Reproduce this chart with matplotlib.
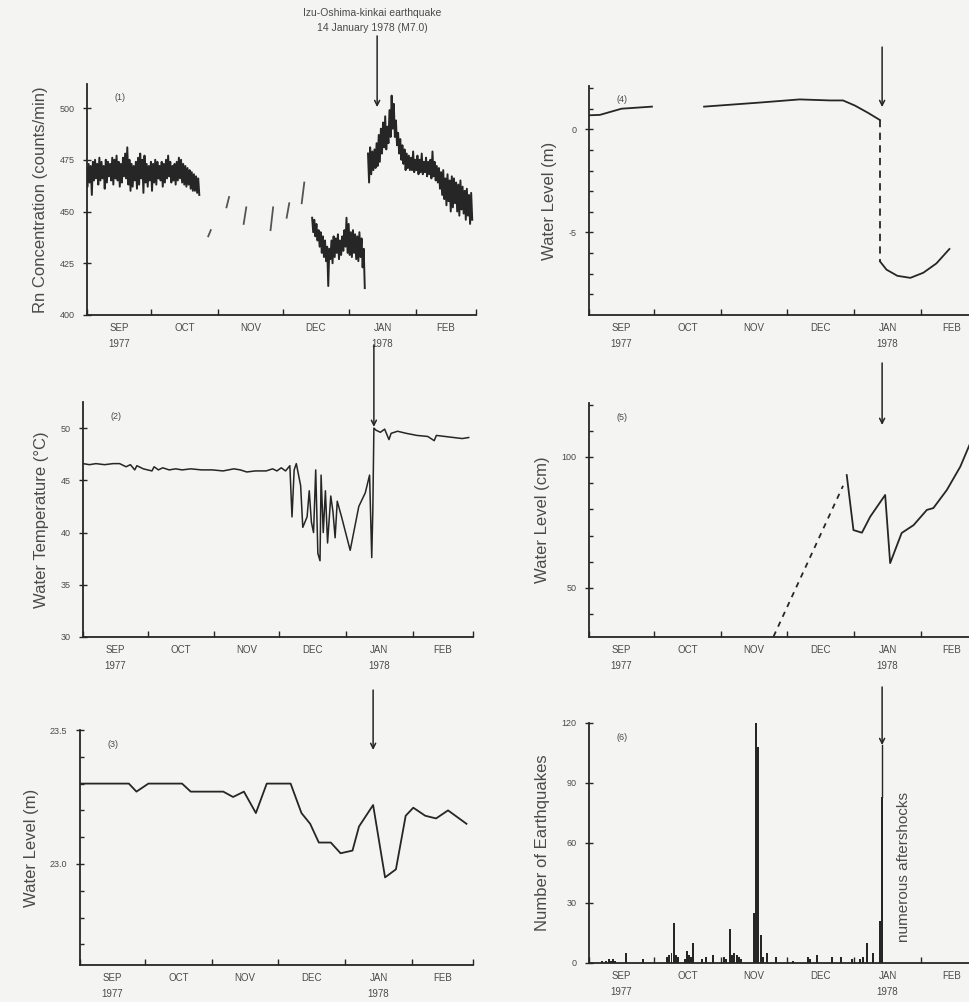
import numpy as np
import matplotlib
matplotlib.use("Agg")
import matplotlib.pyplot as plt

plt.rcParams['font.family'] = ['Liberation Sans', 'DejaVu Sans']

# x axis: days counted from 1 Sep 1977
month_starts = [0, 30, 61, 91, 122, 153, 181]
month_labels = ['SEP\n1977', 'OCT', 'NOV', 'DEC', 'JAN\n1978', 'FEB']
quake_day = 135  # 14 January 1978

# (1) Rn concentration, daily high / low of the record
rn1_days = list(range(0, 53))
rn1_hi = [471, 473, 472, 474, 475, 473, 476, 474, 472, 475, 474, 473, 476, 475, 477, 474, 473, 476,
          478, 481, 475, 473, 472, 474, 476, 478, 475, 477, 473, 472, 474, 473, 475, 474, 472, 474,
          473, 475, 477, 474, 472, 473, 474, 476, 475, 473, 472, 471, 470, 469, 468, 467, 466]
rn1_lo = [462, 464, 458, 465, 466, 463, 465, 466, 461, 464, 467, 465, 463, 466, 465, 462, 464, 467,
          466, 463, 460, 462, 465, 461, 463, 466, 459, 464, 462, 465, 460, 464, 463, 466, 465, 462,
          464, 466, 467, 464, 465, 463, 465, 466, 464, 463, 462, 463, 461, 460, 460, 459, 458]
rn_streak_days = [57, 65.5, 73.5, 86, 93.5, 100.5]
rn_streak_lo = [438, 452, 444, 441, 447, 454]
rn_streak_hi = [441, 457, 452, 452, 454, 464]
rn2_days = list(range(105, 130))
rn2_hi = [447, 446, 444, 441, 440, 438, 436, 433, 432, 436, 438, 437, 439, 436, 438, 441, 447, 444,
          440, 441, 439, 438, 440, 437, 432]
rn2_lo = [440, 438, 436, 433, 430, 428, 426, 414, 427, 425, 428, 430, 427, 429, 431, 433, 430, 429,
          428, 430, 427, 426, 428, 423, 413]
rn3_days = list(range(131, 180))
rn3_hi = [478, 481, 479, 480, 483, 487, 490, 493, 496, 491, 499, 506, 502, 494, 488, 485, 482, 480,
          478, 477, 476, 479, 475, 477, 475, 478, 474, 476, 474, 475, 479, 474, 472, 471, 469, 470,
          466, 468, 465, 467, 466, 464, 463, 465, 462, 460, 461, 458, 459]
rn3_lo = [464, 468, 470, 471, 472, 474, 478, 481, 480, 483, 486, 490, 486, 482, 478, 475, 473, 470,
          471, 470, 470, 469, 470, 468, 469, 468, 469, 467, 468, 466, 467, 465, 464, 461, 458, 456,
          453, 455, 450, 452, 454, 450, 448, 451, 449, 446, 448, 444, 446]

# (2) water temperature (deg C)
wt_days = [0, 3, 6, 10, 14, 17, 20, 22, 24, 25, 28, 30, 32, 33, 35, 37, 40, 43, 46, 50, 55, 60, 65,
           70, 73, 76, 80, 85, 88, 90, 92, 94, 96, 97, 98, 99, 101, 102, 104, 105, 106, 107, 108,
           109, 110, 110.5, 111.5, 112.5, 113.5, 115, 116, 117, 118, 120, 124, 128, 131, 133, 134,
           134.5, 135, 136, 138, 140, 142, 143, 146, 150, 155, 160, 163, 164, 168, 172, 176, 179]
wt_vals = [46.6, 46.5, 46.6, 46.5, 46.6, 46.6, 46.3, 46.5, 46.0, 46.4, 46.1, 46.0, 45.9, 46.3, 46.0,
           46.2, 46.0, 46.1, 46.0, 46.1, 46.0, 46.0, 45.9, 46.1, 46.0, 45.8, 45.9, 45.9, 46.1, 45.9,
           46.2, 45.9, 46.4, 41.5, 46.0, 46.6, 44.5, 40.5, 41.5, 44.0, 41.0, 40.0, 46.0, 38.0, 37.3,
           45.5, 40.0, 44.0, 39.0, 43.5, 42.0, 39.5, 43.0, 41.5, 38.3, 42.5, 43.8, 45.5, 37.6, 42.0,
           50.0, 49.8, 49.6, 49.9, 48.9, 49.5, 49.7, 49.5, 49.3, 49.2, 48.8, 49.3, 49.2, 49.1, 49.0,
           49.1]

# (3) water level (m)
wl3_days = [0, 22.5, 26, 31.5, 47, 51, 66, 70.5, 75.5, 81, 86, 97, 102, 106, 110, 115.5, 120, 125.5,
            128.5, 135, 140.5, 145.5, 150, 153.5, 159, 164, 169.5, 178]
wl3_vals = [23.30, 23.30, 23.27, 23.30, 23.30, 23.27, 23.27, 23.25, 23.27, 23.19, 23.30, 23.30,
            23.19, 23.15, 23.08, 23.08, 23.04, 23.05, 23.14, 23.22, 22.95, 22.98, 23.18, 23.21,
            23.18, 23.17, 23.20, 23.15]

# (4) water level (m)
wl4a_days = [0, 5, 15, 29]
wl4a_vals = [0.68, 0.7, 1.0, 1.1]
wl4b_days = [53, 79, 97, 111, 117, 122.5, 128.5, 134]
wl4b_vals = [1.1, 1.3, 1.45, 1.4, 1.4, 1.15, 0.8, 0.45]
wl4_drop_days = [134, 134]
wl4_drop_vals = [0.45, -6.4]
wl4c_days = [134, 137, 142, 148, 154, 160, 166]
wl4c_vals = [-6.4, -6.8, -7.1, -7.2, -6.95, -6.5, -5.8]

# (5) water level (cm)
wl5_dash_days = [85, 117]
wl5_dash_vals = [31.5, 89]
wl5_days = [118.7, 121.8, 125.7, 129.5, 136.4, 138.7, 144, 149.5, 155.6, 158.6, 164.8, 171, 175.6, 181]
wl5_vals = [93.1, 72.1, 71.1, 77.2, 85.5, 59.5, 71, 74, 79.8, 80.5, 87.4, 96.3, 105.3, 112]

# (6) daily number of earthquakes
eq_days = [6, 8, 9, 10, 11, 12, 17, 25, 36, 37, 38, 39, 40, 41, 44, 45, 46, 47, 48, 52, 54, 57, 62,
           63, 65, 66, 67, 68, 69, 70, 76, 77, 78, 79, 80, 82, 86, 94, 101, 102, 105, 112, 116, 121,
           125, 126, 128, 131, 134, 135]
eq_counts = [1, 1, 2, 1, 2, 1, 5, 2, 3, 4, 5, 20, 4, 3, 2, 6, 4, 3, 10, 2, 3, 4, 3, 2, 17, 4, 5, 4,
             3, 2, 25, 121, 108, 14, 3, 5, 3, 1, 3, 2, 4, 3, 3, 2, 2, 3, 10, 5, 21, 83]

INK = '#262626'
TXT = '#4a4a4a'
W, H = 970, 1002


def make_ax(left, right, top, bottom):
    return fig.add_axes([left / W, 1 - bottom / H, (right - left) / W, (bottom - top) / H])


def zigzag(days, hi, lo):
    xs, ys = [], []
    for d, h, l in zip(days, hi, lo):
        xs += [d - 0.25, d + 0.25]
        ys += [h, l]
    return xs, ys


def style(ax, ylabel, tag, yticks, ylabels, yminor=None):
    ax.set_facecolor('none')
    for s in ['top', 'right']:
        ax.spines[s].set_visible(False)
    for s in ['left', 'bottom']:
        ax.spines[s].set_color(INK)
        ax.spines[s].set_linewidth(1.3)
    ax.set_xlim(month_starts[0], month_starts[-1])
    ax.set_xticks(month_starts)
    ax.set_xticklabels([''] * len(month_starts))
    ax.tick_params(axis='x', which='major', direction='in', length=4, color=INK, width=1)
    mids = [(a + b) / 2 for a, b in zip(month_starts[:-1], month_starts[1:])]
    ax.set_xticks(mids, minor=True)
    ax.set_xticklabels(month_labels, minor=True, fontsize=7, color=TXT, linespacing=1.7,
                       va='top')
    ax.tick_params(axis='x', which='minor', length=0, pad=6)
    ax.set_yticks(yticks)
    ax.set_yticklabels(ylabels, fontsize=6.5, color=TXT)
    if yminor is not None:
        ax.set_yticks(yminor, minor=True)
    ax.tick_params(axis='y', which='major', direction='inout', length=6, color=INK, width=1, pad=6)
    ax.tick_params(axis='y', which='minor', direction='in', length=3, color=INK, width=1)
    ax.set_ylabel(ylabel, fontsize=12, color=TXT, labelpad=8)
    ax.text(0.07, 0.94, tag, transform=ax.transAxes, fontsize=6.5, color=TXT, va='center')


def quake_arrow(ax, head, tail):
    ax.annotate('', xy=(quake_day, head), xytext=(quake_day, tail),
                xycoords=ax.get_xaxis_transform(), textcoords=ax.get_xaxis_transform(),
                annotation_clip=False,
                arrowprops=dict(arrowstyle='->', lw=1.1, color=INK, shrinkA=0, shrinkB=0,
                                mutation_scale=9))


fig = plt.figure(figsize=(W / 100, H / 100), dpi=100, facecolor='#f4f4f2')

# (1)
ax1 = make_ax(87, 476, 84, 315)
for d, h, l in [(rn1_days, rn1_hi, rn1_lo), (rn2_days, rn2_hi, rn2_lo), (rn3_days, rn3_hi, rn3_lo)]:
    xs, ys = zigzag(d, h, l)
    ax1.plot(xs, ys, color=INK, lw=1.4)
for d, l, h in zip(rn_streak_days, rn_streak_lo, rn_streak_hi):
    ax1.plot([d - 0.6, d + 0.6], [l, h], color='#555555', lw=1.3)
ax1.set_ylim(400, 511.6)
style(ax1, 'Rn Concentration (counts/min)', '(1)', [400, 425, 450, 475, 500],
      ['400', '425', '450', '475', '500'])
quake_arrow(ax1, 0.90, 1.208)
fig.text(372 / W, 1 - 13 / H, 'Izu-Oshima-kinkai earthquake', ha='center', va='center',
         fontsize=7.5, color=TXT)
fig.text(372 / W, 1 - 28 / H, '14 January 1978 (M7.0)', ha='center', va='center',
         fontsize=7.5, color=TXT)

# (2)
ax2 = make_ax(83, 473, 402, 637)
ax2.plot(wt_days, wt_vals, color=INK, lw=1.1)
ax2.set_ylim(30, 52.5)
style(ax2, 'Water Temperature (\u00b0C)', '(2)', [30, 35, 40, 45, 50],
      ['30', '35', '40', '45', '50'])
quake_arrow(ax2, 0.894, 1.243)

# (3)
ax3 = make_ax(80, 473, 730, 965)
ax3.plot(wl3_days, wl3_vals, color=INK, lw=1.3)
ax3.set_ylim(22.623, 23.5)
style(ax3, 'Water Level (m)', '(3)', [23.0, 23.5], ['23.0', '23.5'],
      [22.7, 22.8, 22.9, 23.1, 23.2, 23.3, 23.4])
quake_arrow(ax3, 0.915, 1.17)

# (4)
ax4 = make_ax(589, 982, 86, 315)
ax4.plot(wl4a_days, wl4a_vals, color=INK, lw=1.3)
ax4.plot(wl4b_days, wl4b_vals, color=INK, lw=1.3)
ax4.plot(wl4_drop_days, wl4_drop_vals, color=INK, lw=1.3, ls=(0, (4, 3)))
ax4.plot(wl4c_days, wl4c_vals, color=INK, lw=1.3)
ax4.set_ylim(-9, 2.1)
style(ax4, 'Water Level (m)', '(4)', [-5, 0], ['-5', '0'], [-8, -7, -6, -4, -3, -2, -1, 1, 2])
quake_arrow(ax4, 0.908, 1.17)

# (5)
ax5 = make_ax(589, 982, 403, 637)
ax5.plot(wl5_dash_days, wl5_dash_vals, color=INK, lw=1.3, ls=(0, (3, 3)))
ax5.plot(wl5_days, wl5_vals, color=INK, lw=1.3)
ax5.set_ylim(31.3, 120.6)
style(ax5, 'Water Level (cm)', '(5)', [50, 100], ['50', '100'], [40, 60, 70, 80, 90, 110, 120])
quake_arrow(ax5, 0.906, 1.171)

# (6)
ax6 = make_ax(589, 982, 723, 963)
ax6.bar(eq_days, eq_counts, width=0.9, color=INK, align='center')
ax6.set_ylim(0, 120)
style(ax6, 'Number of Earthquakes', '(6)', [0, 30, 60, 90, 120], ['0', '30', '60', '90', '120'])
quake_arrow(ax6, 0.908, 1.15)
ax6.plot([quake_day, quake_day], [eq_counts[-1], 0.908 * 120], color=INK, lw=1)
ax6.text(145, 48, 'numerous aftershocks', rotation=90, ha='center', va='center', fontsize=11,
         color=TXT)

fig.savefig('out.png', dpi=100, facecolor=fig.get_facecolor())
